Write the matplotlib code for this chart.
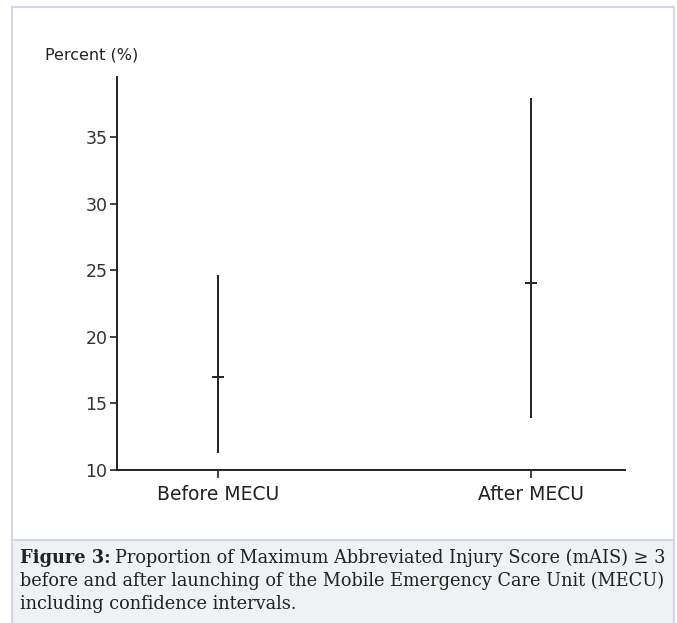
import matplotlib
matplotlib.use("Agg")
import matplotlib.pyplot as plt
from matplotlib.patches import Rectangle

categories = ["Before MECU", "After MECU"]
estimates = [17.0, 24.0]
lower = [11.3, 13.9]
upper = [24.6, 37.9]
yticks = [10, 15, 20, 25, 30, 35]
ylabel = "Percent (%)"
caption_bold = "Figure 3:"
caption_lines = ["Proportion of Maximum Abbreviated Injury Score (mAIS) \u2265 3",
                 "before and after launching of the Mobile Emergency Care Unit (MECU)",
                 "including confidence intervals."]

W, H = 677, 623
fig = plt.figure(figsize=(W / 100, H / 100), dpi=100)

# frame and caption background
border = "#d4d4ec"
fig.patches.append(Rectangle((12 / W, 0), (674 - 12) / W, (623 - 540) / H,
                             transform=fig.transFigure, facecolor="#f0f1f3",
                             edgecolor="none", zorder=0))
fig.patches.append(Rectangle((12 / W, -0.01), (674 - 12) / W, (623 - 7) / H + 0.01,
                             transform=fig.transFigure, facecolor="none",
                             edgecolor=border, lw=1.5, zorder=1))
fig.lines.append(plt.Line2D([12 / W, 674 / W], [1 - 540 / H, 1 - 540 / H],
                            transform=fig.transFigure, color=border, lw=1.5))

ax = fig.add_axes([117 / W, 1 - 470 / H, (625 - 117) / W, (470 - 77) / H])
ax.set_facecolor("none")
x = list(range(len(categories)))
for xi, est, lo, hi in zip(x, estimates, lower, upper):
    ax.plot([xi, xi], [lo, hi], color="#222222", lw=1.4, solid_capstyle="butt")
    ax.plot([xi], [est], marker="_", markersize=8, mew=1.4, color="#222222")

ax.set_xlim(-0.323, 1.30)
ax.set_ylim(10, 39.5)
ax.set_yticks(yticks)
ax.set_xticks(x)
ax.set_xticklabels(categories)
for s in ["top", "right"]:
    ax.spines[s].set_visible(False)
for s in ["left", "bottom"]:
    ax.spines[s].set_color("#222222")
    ax.spines[s].set_linewidth(1.4)
ax.tick_params(axis="y", length=5, width=1.2, color="#222222", pad=2,
               labelsize=12.5, labelcolor="#333333")
ax.tick_params(axis="x", direction="out", length=6, width=1.2, color="#222222",
               pad=5, labelsize=13.5, labelcolor="#222222")
fig.text(45 / W, 1 - 55 / H, ylabel, fontsize=11.5, color="#222222",
         ha="left", va="center")

# caption
fam = ["DejaVu Serif"]
renderer = fig.canvas.get_renderer()
fs = 12.0
probe = fig.text(0, 0, caption_lines[1], fontsize=fs, family=fam)
wpx = probe.get_window_extent(renderer).width
probe.remove()
fs = fs * 645 / wpx
ys = [558, 581, 604]
t = fig.text(20 / W, 1 - ys[0] / H, caption_bold, fontsize=fs, family=fam,
             weight="bold", color="#222222", ha="left", va="center")
bw = t.get_window_extent(renderer).width
fig.text((20 + bw + fs * 0.35) / W, 1 - ys[0] / H, caption_lines[0], fontsize=fs,
         family=fam, color="#222222", ha="left", va="center")
for line, yy in zip(caption_lines[1:], ys[1:]):
    fig.text(20 / W, 1 - yy / H, line, fontsize=fs, family=fam, color="#222222",
             ha="left", va="center")

fig.savefig("out.png", dpi=100)
